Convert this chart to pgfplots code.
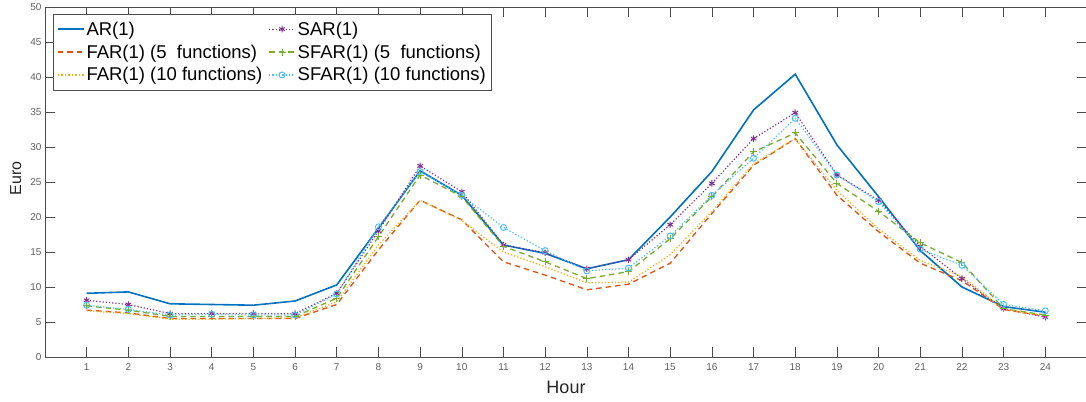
\documentclass[border=0pt]{standalone}
\usepackage{fontspec}
\setmainfont{Liberation Sans}
\usepackage{pgfplots}
\usepackage{pgfplotstable}
\pgfplotsset{compat=1.18}
\definecolor{mblue}{rgb}{0,0.447,0.741}
\definecolor{morange}{rgb}{0.850,0.325,0.098}
\definecolor{myellow}{rgb}{0.929,0.694,0.125}
\definecolor{mpurple}{rgb}{0.494,0.184,0.556}
\definecolor{mgreen}{rgb}{0.466,0.674,0.188}
\definecolor{mcyan}{rgb}{0.301,0.745,0.933}
\definecolor{axgray}{rgb}{0.30,0.30,0.30}
\definecolor{lblgray}{rgb}{0.38,0.38,0.38}
\definecolor{txt}{rgb}{0.15,0.15,0.15}
\pgfplotstableread{
h AR SAR FARa FARb SFARa SFARb
1 9.1 8.1 6.7 6.6 7.3 7.4
2 9.3 7.5 6.3 6.2 6.7 6.8
3 7.6 6.2 5.5 5.4 5.8 6.0
4 7.5 6.2 5.5 5.4 5.8 6.1
5 7.4 6.2 5.5 5.5 5.8 6.0
6 8.0 6.2 5.5 5.6 5.8 6.0
7 10.3 9.1 7.5 7.9 8.4 9.0
8 18.4 18.0 15.3 16.0 17.2 18.6
9 26.6 27.3 22.4 22.4 26.0 26.5
10 23.1 23.6 19.6 19.5 22.9 23.1
11 16.0 16.0 13.6 15.0 15.8 18.5
12 14.8 14.9 11.7 12.9 13.6 15.2
13 12.6 12.6 9.6 10.6 11.2 12.3
14 13.9 13.9 10.4 10.7 12.2 12.7
15 20.0 18.9 13.4 14.6 16.9 17.3
16 26.5 24.8 20.5 20.8 22.9 23.1
17 35.3 31.2 27.4 27.6 29.3 28.4
18 40.4 34.9 31.2 31.2 32.0 34.1
19 30.3 26.0 23.1 23.8 24.8 26.0
20 22.9 22.4 17.9 18.3 20.8 22.2
21 15.2 15.8 13.4 13.8 16.3 15.4
22 10.0 11.2 10.9 11.5 13.5 13.1
23 7.2 6.9 6.8 6.8 6.9 7.5
24 6.4 5.7 5.8 5.9 6.0 6.6
}\datatab
\begin{document}
\begin{tikzpicture}
\begin{axis}[
  scale only axis,
  width=1042pt, height=350pt,
  xmin=0, xmax=25, ymin=0, ymax=50,
  xtick={1,...,24},
  ytick={0,5,...,50},
  tick align=inside,
  major tick length=10pt,
  axis line style={axgray, line width=0.6pt},
  every tick/.style={axgray, line width=0.6pt},
  tick label style={font=\fontsize{10}{12}\selectfont, text=lblgray},
  /pgf/number format/assume math mode=true,
  xticklabel style={yshift=-3pt},
  xlabel={Hour},
  ylabel={Euro},
  xlabel style={font=\fontsize{18}{20}\selectfont, text=txt, at={(axis description cs:0.5,0)}, anchor=base, yshift=-36pt},
  ylabel style={font=\fontsize{16}{18}\selectfont, text=txt, at={(axis description cs:-0.028,0.511)}, anchor=center},
  legend columns=2,
  legend cell align=left,
  legend style={at={(rel axis cs:0,1)}, anchor=north west, xshift=8pt, yshift=-7pt,
    draw=axgray, font=\fontsize{18.5}{20}\selectfont,
    inner xsep=3.5pt, inner ysep=5.5pt, row sep=4pt,
    /tikz/every even column/.append style={column sep=4pt}},
]
\addplot[color=mblue, line width=1.6pt,
  legend image code/.code={\draw[mblue, line width=1.8pt] (0pt,0pt) -- (26pt,0pt);}] table[x=h,y=AR]{\datatab};
\addlegendentry{AR(1)}
\addplot[color=mpurple, line width=1.2pt, dotted, mark=asterisk, mark size=3.2pt, mark options={solid, line width=1pt},
  legend image code/.code={\draw[mpurple, line width=1.3pt, dash pattern=on 1.3pt off 2pt] (0pt,0pt) -- (26pt,0pt);
    \draw[mpurple, line width=1pt, solid] plot[mark=asterisk, mark size=3.2pt] coordinates {(13pt,0pt)};}] table[x=h,y=SAR]{\datatab};
\addlegendentry{SAR(1)}
\addplot[color=morange, line width=1.3pt, dash pattern=on 5.5pt off 4pt,
  legend image code/.code={\draw[morange, line width=1.4pt, dash pattern=on 5.5pt off 4pt] (0pt,0pt) -- (26pt,0pt);}] table[x=h,y=FARa]{\datatab};
\addlegendentry{FAR(1) (5\ \ functions)}
\addplot[color=mgreen, line width=1.3pt, dash pattern=on 5.5pt off 4pt, mark=+, mark size=3.5pt, mark options={solid, line width=1pt},
  legend image code/.code={\draw[mgreen, line width=1.4pt, dash pattern=on 5.5pt off 4pt] (0pt,0pt) -- (26pt,0pt);
    \draw[mgreen, line width=1pt, solid] plot[mark=+, mark size=3.5pt] coordinates {(13pt,0pt)};}] table[x=h,y=SFARa]{\datatab};
\addlegendentry{SFAR(1) (5\ \ functions)}
\addplot[color=myellow, line width=1.3pt, dash pattern=on 1.3pt off 2pt,
  legend image code/.code={\draw[myellow, line width=1.5pt, dash pattern=on 1.5pt off 2pt] (0pt,0pt) -- (26pt,0pt);}] table[x=h,y=FARb]{\datatab};
\addlegendentry{FAR(1) (10 functions)}
\addplot[color=mcyan, line width=1.2pt, dash pattern=on 1.3pt off 2pt, mark=o, mark size=3pt, mark options={solid, line width=1pt},
  legend image code/.code={\draw[mcyan, line width=1.3pt, dash pattern=on 1.3pt off 2pt] (0pt,0pt) -- (26pt,0pt);
    \draw[mcyan, line width=1pt, solid] plot[mark=o, mark size=3pt] coordinates {(13pt,0pt)};}] table[x=h,y=SFARb]{\datatab};
\addlegendentry{SFAR(1) (10 functions)}
\end{axis}
\pgfresetboundingbox
\useasboundingbox ([shift={(-45pt,-44pt)}]current axis.south west) rectangle ([shift={(-1pt,7pt)}]current axis.north east);
\end{tikzpicture}
\end{document}
